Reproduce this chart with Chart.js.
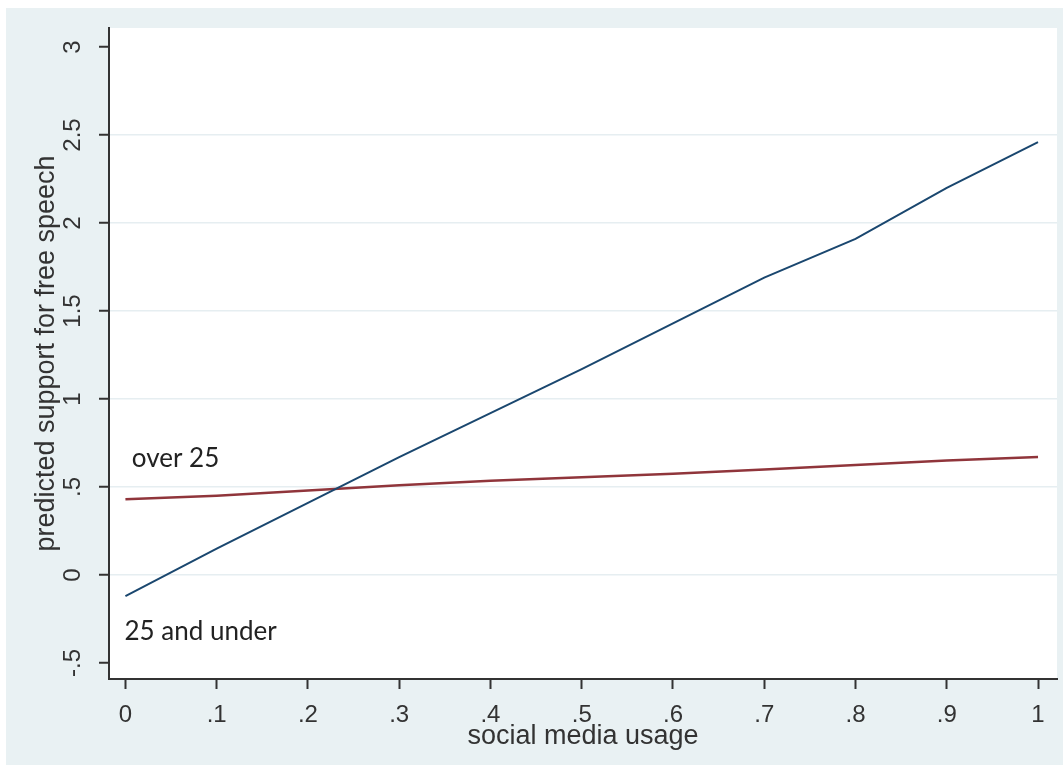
<!DOCTYPE html>
<html>
<head>
<meta charset="utf-8">
<script src="https://cdn.jsdelivr.net/npm/chart.js@4"></script>
<style>
  html, body { margin: 0; padding: 0; background: #ffffff; }
  #wrap { position: relative; width: 1063px; height: 767px; }
</style>
</head>
<body>
<div id="wrap"><canvas id="chart" width="1063" height="767"></canvas></div>
<script>
// 資料
const usage = [0, 0.1, 0.2, 0.3, 0.4, 0.5, 0.6, 0.7, 0.8, 0.9, 1];
const under25 = [-0.12, 0.15, 0.41, 0.67, 0.92, 1.17, 1.43, 1.69, 1.91, 2.20, 2.46];
const over25 = [0.43, 0.45, 0.48, 0.51, 0.535, 0.555, 0.575, 0.60, 0.625, 0.65, 0.67];

const xTicks = [0, 0.1, 0.2, 0.3, 0.4, 0.5, 0.6, 0.7, 0.8, 0.9, 1];
const xTickLabels = ['0', '.1', '.2', '.3', '.4', '.5', '.6', '.7', '.8', '.9', '1'];
const yTicks = [-0.5, 0, 0.5, 1, 1.5, 2, 2.5, 3];
const yTickLabels = ['-.5', '0', '.5', '1', '1.5', '2', '2.5', '3'];

const lineLabels = [
    { text: 'over 25', x: 0.007, y: 0.66 },
    { text: '25 and under', x: -0.001, y: -0.32 }
];

const toPoints = ys => usage.map((x, i) => ({ x: x, y: ys[i] }));

// 背景
const backgroundPlugin = {
    id: 'stataBackground',
    beforeDraw(chart) {
        const { ctx, chartArea } = chart;
        ctx.save();
        ctx.fillStyle = '#ffffff';
        ctx.fillRect(0, 0, chart.width, chart.height);
        ctx.fillStyle = '#e9f1f3';
        ctx.fillRect(6, 8, chart.width - 6, chart.height - 10);
        ctx.fillStyle = '#ffffff';
        ctx.fillRect(chartArea.left, chartArea.top,
            chartArea.right - chartArea.left, chartArea.bottom - chartArea.top);
        ctx.restore();
    }
};

// 線條標籤
const lineLabelPlugin = {
    id: 'lineLabels',
    afterDatasetsDraw(chart) {
        const { ctx, scales } = chart;
        ctx.save();
        ctx.font = '26px Lato, "Open Sans", sans-serif';
        ctx.fillStyle = '#222222';
        ctx.textAlign = 'left';
        ctx.textBaseline = 'middle';
        lineLabels.forEach(l => {
            ctx.fillText(l.text, scales.x.getPixelForValue(l.x), scales.y.getPixelForValue(l.y));
        });
        ctx.restore();
    }
};

const tickFont = { family: '"Liberation Sans", Arial, sans-serif', size: 24 };
const titleFont = { family: '"Liberation Sans", Arial, sans-serif', size: 27 };

new Chart(document.getElementById('chart'), {
    type: 'line',
    data: {
        datasets: [
            {
                label: '25 and under',
                data: toPoints(under25),
                borderColor: '#1a476f',
                borderWidth: 2,
                pointRadius: 0,
                tension: 0
            },
            {
                label: 'over 25',
                data: toPoints(over25),
                borderColor: '#90353b',
                borderWidth: 2.5,
                pointRadius: 0,
                tension: 0
            }
        ]
    },
    options: {
        responsive: false,
        animation: false,
        devicePixelRatio: 1,
        layout: { padding: { left: 0, top: 28, right: 6, bottom: 0 } },
        plugins: {
            legend: { display: false },
            tooltip: { enabled: false }
        },
        scales: {
            x: {
                type: 'linear',
                min: -0.018,
                max: 1.0208,
                afterBuildTicks: scale => { scale.ticks = xTicks.map(v => ({ value: v })); },
                afterFit: scale => { scale.height = 88; },
                ticks: {
                    font: tickFont,
                    color: '#333333',
                    padding: 12,
                    maxRotation: 0,
                    callback: (v, i) => xTickLabels[i]
                },
                grid: {
                    drawOnChartArea: false,
                    drawTicks: true,
                    tickLength: 10,
                    tickWidth: 2,
                    tickColor: '#333333'
                },
                border: { color: '#333333', width: 2 },
                title: {
                    display: true,
                    text: 'social media usage',
                    font: titleFont,
                    color: '#333333',
                    padding: { top: 0, bottom: 14 }
                }
            },
            y: {
                type: 'linear',
                min: -0.591,
                max: 3.108,
                afterBuildTicks: scale => { scale.ticks = yTicks.map(v => ({ value: v })); },
                afterFit: scale => { scale.width = 109; },
                ticks: {
                    font: tickFont,
                    color: '#333333',
                    padding: 9,
                    minRotation: 90,
                    maxRotation: 90,
                    crossAlign: 'center',
                    callback: (v, i) => yTickLabels[i]
                },
                grid: {
                    color: ctx => (ctx.tick && ctx.tick.value > -0.5 && ctx.tick.value < 3) ? '#e6eef1' : 'rgba(0,0,0,0)',
                    lineWidth: 1.5,
                    drawTicks: true,
                    tickLength: 10,
                    tickWidth: 2,
                    tickColor: '#333333'
                },
                border: { color: '#333333', width: 2 },
                title: {
                    display: true,
                    text: 'predicted support for free speech',
                    font: titleFont,
                    color: '#333333',
                    padding: { top: 30, bottom: 0 }
                }
            }
        }
    },
    plugins: [backgroundPlugin, lineLabelPlugin]
});
</script>
</body>
</html>
